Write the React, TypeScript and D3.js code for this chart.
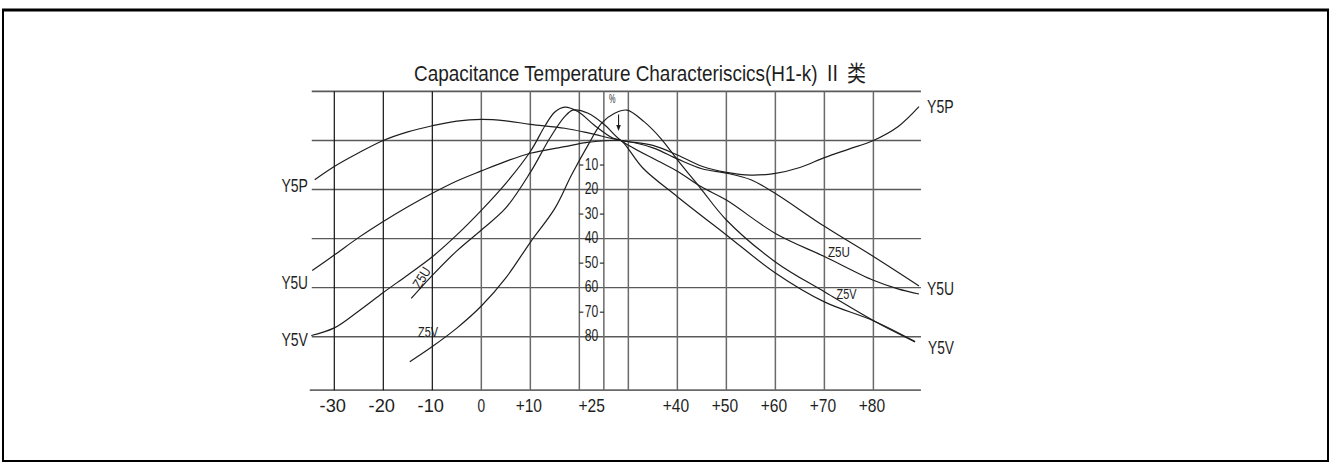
import React from 'react';
import * as d3 from 'd3';

const W = 1331;
const H = 464;

// ---- data ----
const gridTemps = [-30, -20, -10, 0, 10, 20, 25, 30, 40, 50, 60, 70, 80];
const darkGridTemps = [-30, -20, -10];
const gridPcts = [20, 0, -20, -40, -60, -80];
const tickTemps = [-30, -20, -10, 0, 10, 25, 40, 50, 60, 70, 80];
const tickTexts = ['-30', '-20', '-10', '0', '+10', '+25', '+40', '+50', '+60', '+70', '+80'];
const axisPcts = [-10, -20, -30, -40, -50, -60, -70, -80];
const axisTexts = ['10', '20', '30', '40', '50', '60', '70', '80'];

const y5pT = [-34, -30, -25, -20, -15, -10, -5, 0, 5, 10, 17, 22, 28.5, 35, 40, 45, 50, 55, 60, 65, 70, 75, 80, 85, 89.3];
const y5pV = [-16, -10.6, -5, 0, 3.5, 6, 7.9, 8.6, 8, 6.6, 5, 3, 0, -2, -5.9, -10.5, -13, -14.1, -13.4, -11, -7, -3.5, 0, 5.6, 13.8];

const y5uT = [-34.5, -30, -25, -20, -15, -10, -5, 0, 5, 10, 17, 22, 28.5, 35, 40, 45, 50, 55, 60, 70, 80, 89.3];
const y5uV = [-53, -46.7, -39.5, -33, -27, -21.5, -16.5, -12.4, -8.5, -5.2, -2.5, -0.7, 0, -3, -7.5, -11.5, -13.3, -16, -21.6, -35, -47.3, -59.3];

const y5vT = [-34.7, -30, -25, -20, -15, -10, -5, 0, 5, 10, 13, 15, 17, 19.7, 23, 26.8, 28.5, 33, 40, 50, 60, 70, 80, 88.5];
const y5vV = [-79.5, -76.4, -69.5, -62, -54.8, -47.4, -38.5, -28.5, -17.5, -4.5, 6, 11.6, 13.6, 11.8, 6.3, 1, 0, -11.3, -22.9, -38.5, -54, -65.8, -73.5, -82];

const z5uT = [-14.3, -10, -5, 0, 5, 10, 14, 17, 18.7, 21.8, 25.2, 28.5, 36.4, 40, 44.9, 50, 60, 70, 80, 85, 89.3];
const z5uV = [-64.4, -55, -45, -36.5, -27.5, -13, 1, 9.7, 12.4, 11.1, 6.3, 0, -8.7, -12.5, -18.9, -24.3, -37.9, -47.3, -57, -60.5, -62.6];

const z5vT = [-14.6, -10, -5, 0, 5, 10, 15, 18.4, 21.8, 24.5, 27.2, 29.7, 33.2, 36.6, 40.3, 44.7, 50, 60, 70, 80.5, 88.5];
const z5vV = [-90.2, -84, -76.5, -67.5, -56, -41.5, -27.7, -14.1, -1.8, 7, 11.1, 12.4, 7.7, 0.9, -8.6, -19.4, -32.4, -49.5, -61.7, -74, -82.1];

const seriesT = [y5pT, y5uT, y5vT, z5uT, z5vT];
const seriesV = [y5pV, y5uV, y5vV, z5uV, z5vV];

// ---- scales ----
const x = d3.scaleLinear().domain([-30, 80]).range([334.3, 873.4]);
const y = d3.scaleLinear().domain([0, -80]).range([140.5, 336.7]);
const T_LEFT = -34.6;
const T_RIGHT = 89.7;
const BASE_PCT = -101.8;

const FONT = "'Liberation Sans', 'Noto Sans CJK SC', sans-serif";
const INK = '#1e1e1e';

type NProps = {
  x: number; y: number; len: number; size: number;
  anchor?: 'start' | 'middle' | 'end'; rotate?: number; children: React.ReactNode;
};
function NText({ x: tx, y: ty, len, size, anchor = 'middle', rotate = 0, children }: NProps) {
  return (
    <text
      x={tx}
      y={ty}
      fontSize={size}
      fontFamily={FONT}
      fill={INK}
      textAnchor={anchor}
      dominantBaseline="central"
      textLength={len}
      lengthAdjust="spacingAndGlyphs"
      transform={rotate ? `rotate(${rotate}, ${tx}, ${ty})` : undefined}
    >
      {children}
    </text>
  );
}

export default function App() {
  const line = d3
    .line<[number, number]>()
    .x((d) => x(d[0]))
    .y((d) => y(d[1]))
    .curve(d3.curveCatmullRom.alpha(0.5));

  const yTop = y(20);
  const yBase = y(BASE_PCT);
  const xL = x(T_LEFT);
  const xR = x(T_RIGHT);

  const arrowX = x(28);
  const arrowY1 = y(10.6);
  const arrowY2 = y(3.9);

  return (
    <svg
      width={W}
      height={H}
      viewBox={`0 0 ${W} ${H}`}
      style={{ position: 'absolute', left: 0, top: 0, background: '#fff' }}
    >
      {/* frame */}
      <rect x={3} y={10} width={1325} height={451} fill="none" stroke="#000" strokeWidth={2} />
      <line x1={2} x2={1329} y1={10} y2={10} stroke="#000" strokeWidth={3} />

      {/* title */}
      <NText x={640} y={73} len={452} size={22}>
        Capacitance Temperature Characteriscics(H1-k) Ⅱ 类
      </NText>

      {/* horizontal grid */}
      {gridPcts.map((p) => (
        <line key={'h' + p} x1={xL} x2={xR} y1={y(p)} y2={y(p)} stroke="#5a5a5a" strokeWidth={p === 20 ? 1.8 : 1.4} />
      ))}
      <line x1={xL - 2} x2={xR} y1={yBase} y2={yBase} stroke="#6a6a6a" strokeWidth={1.8} />

      {/* vertical grid */}
      {gridTemps.map((t) => (
        <line
          key={'v' + t}
          x1={x(t)}
          x2={x(t)}
          y1={yTop}
          y2={yBase}
          stroke={darkGridTemps.includes(t) ? '#111' : '#6a6a6a'}
          strokeWidth={darkGridTemps.includes(t) ? 1.2 : 1.5}
        />
      ))}

      {/* centre axis labels */}
      {axisPcts.map((p, i) => (
        <g key={'a' + p}>
          {p % 20 !== 0 && (
            <>
              <line x1={x(20)} x2={x(20) + 4} y1={y(p)} y2={y(p)} stroke={INK} strokeWidth={1.1} />
              <line x1={x(25) - 4} x2={x(25)} y1={y(p)} y2={y(p)} stroke={INK} strokeWidth={1.1} />
            </>
          )}
          <NText x={(x(20) + x(25)) / 2} y={y(p) - 1} len={13.5} size={16}>
            {axisTexts[i]}
          </NText>
        </g>
      ))}

      {/* % and arrow */}
      <NText x={x(26.7)} y={y(17)} len={6.5} size={12}>%</NText>
      <line x1={arrowX} x2={arrowX} y1={arrowY1} y2={arrowY2 - 5} stroke={INK} strokeWidth={1.1} />
      <path
        d={`M${arrowX - 2.3},${arrowY2 - 6} L${arrowX + 2.3},${arrowY2 - 6} L${arrowX},${arrowY2} Z`}
        fill={INK}
      />

      {/* bottom tick labels */}
      {tickTemps.map((t, i) => {
        const txt = tickTexts[i];
        const isEnd = t === 25;
        return (
          <NText
            key={'t' + t}
            x={isEnd ? x(t) + 1 : x(t) - (txt.length > 1 ? 1.5 : 0)}
            y={405}
            len={txt.length === 1 ? 7.6 : txt.length * 8.8}
            size={19}
            anchor={isEnd ? 'end' : 'middle'}
          >
            {txt}
          </NText>
        );
      })}

      {/* curves */}
      {seriesT.map((ts, i) => (
        <path
          key={'s' + i}
          d={line(ts.map((t, j) => [t, seriesV[i][j]] as [number, number])) || ''}
          fill="none"
          stroke={INK}
          strokeWidth={1.2}
        />
      ))}

      {/* series labels */}
      <NText x={308} y={185} len={26.6} size={19} anchor="end">Y5P</NText>
      <NText x={308} y={282.5} len={26.6} size={19} anchor="end">Y5U</NText>
      <NText x={308} y={339} len={26.6} size={19} anchor="end">Y5V</NText>
      <NText x={927} y={106.5} len={26.6} size={19} anchor="start">Y5P</NText>
      <NText x={927} y={288} len={27} size={19} anchor="start">Y5U</NText>
      <NText x={928} y={347} len={26} size={19} anchor="start">Y5V</NText>

      <NText x={839} y={251.5} len={22} size={14}>Z5U</NText>
      <NText x={846.5} y={294} len={20} size={14}>Z5V</NText>
      <NText x={421.5} y={277.5} len={22} size={14} rotate={-58}>Z5U</NText>
      <NText x={428} y={331.5} len={20} size={14}>Z5V</NText>
    </svg>
  );
}
